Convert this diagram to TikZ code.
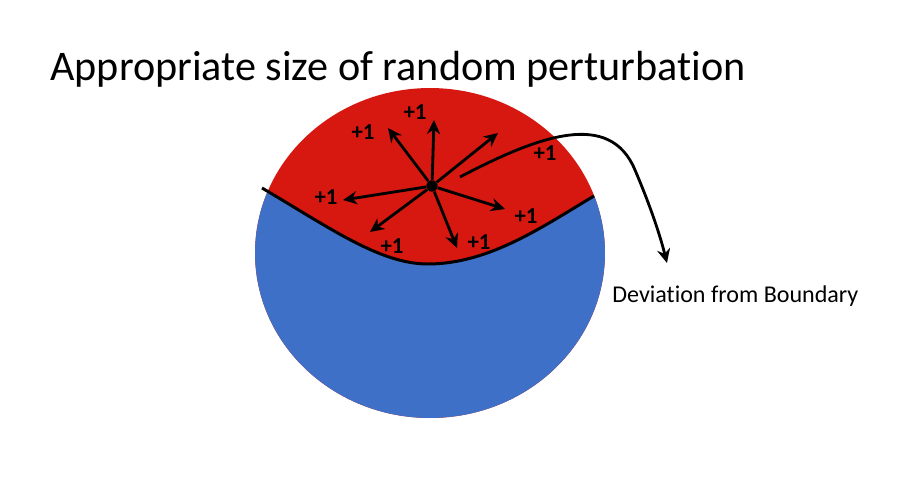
\documentclass[tikz,border=0pt]{standalone}
\usepackage{fontspec}
\setmainfont{Carlito}[Ligatures=NoCommon]
\usetikzlibrary{arrows.meta,positioning}
\definecolor{regionred}{RGB}{214,24,16}
\definecolor{regionblue}{RGB}{61,112,198}

\begin{document}
\begin{tikzpicture}[
  x=0.02cm,y=-0.02cm,
  vote/.style={font=\bfseries\fontsize{13}{15}\selectfont,inner sep=0pt},
  perturb/.style={-{Stealth[length=8pt,width=7.5pt]},line width=1.6pt},
  ]
  \tikzset{%
    boundary/.style={
      line width=1.7pt,
      black,
    },
  }
  \useasboundingbox (0,0) rectangle (907,487);
  %Regions
  \begin{scope}
    \clip (430,253) ellipse [x radius=3.5cm, y radius=3.3cm];
    \fill[regionred] (240,80) rectangle (620,430);
    \fill[regionblue] (240,175) -- (262,188) .. controls (330,228) and (380,264) .. (428,264)
      .. controls (490,264) and (545,225) .. (600,192) -- (620,192) -- (620,430) -- (240,430) -- cycle;
  \end{scope}
  \draw[boundary] (262,188) .. controls (330,228) and (380,264) .. (428,264)
    .. controls (490,264) and (545,225) .. (594,196);
  %Nodes
  \node[anchor=base west,inner sep=0pt,font=\fontsize{24}{28}\selectfont] (title) at (50,80) {Appropriate size of random perturbation};
  \node[circle,fill,inner sep=2.3pt] (c) at (432,186) {};
  \node[vote] (l1) at (363,132) {+1};
  \node[vote] (l2) at (415,112) {+1};
  \node[vote] (l3) at (545,153) {+1};
  \node[vote] (l4) at (326,197) {+1};
  \node[vote] (l5) at (526,216) {+1};
  \node[vote] (l6) at (392,246) {+1};
  \node[vote] (l7) at (479,242) {+1};
  \node[anchor=base west,inner sep=0pt,font=\fontsize{13.7}{16}\selectfont] (dev) at (612,302) {Deviation from Boundary};
  \coordinate (a1) at (388,128);
  \coordinate (a2) at (434,120);
  \coordinate (a3) at (498,133);
  \coordinate (a4) at (505,209);
  \coordinate (a5) at (457,248);
  \coordinate (a6) at (370,232);
  \coordinate (a7) at (343,200);
  \coordinate (s) at (460,177);
  \coordinate (t) at (667,263);
  %Lines
  \foreach \e in {a1,a2,a3,a4,a5,a6,a7}
    \draw[perturb] (c) -- (\e);
  \draw[perturb] (s) .. controls (540,135) and (610,110) .. (635,170)
    .. controls (650,205) and (660,235) .. (t);
\end{tikzpicture}
\end{document}
